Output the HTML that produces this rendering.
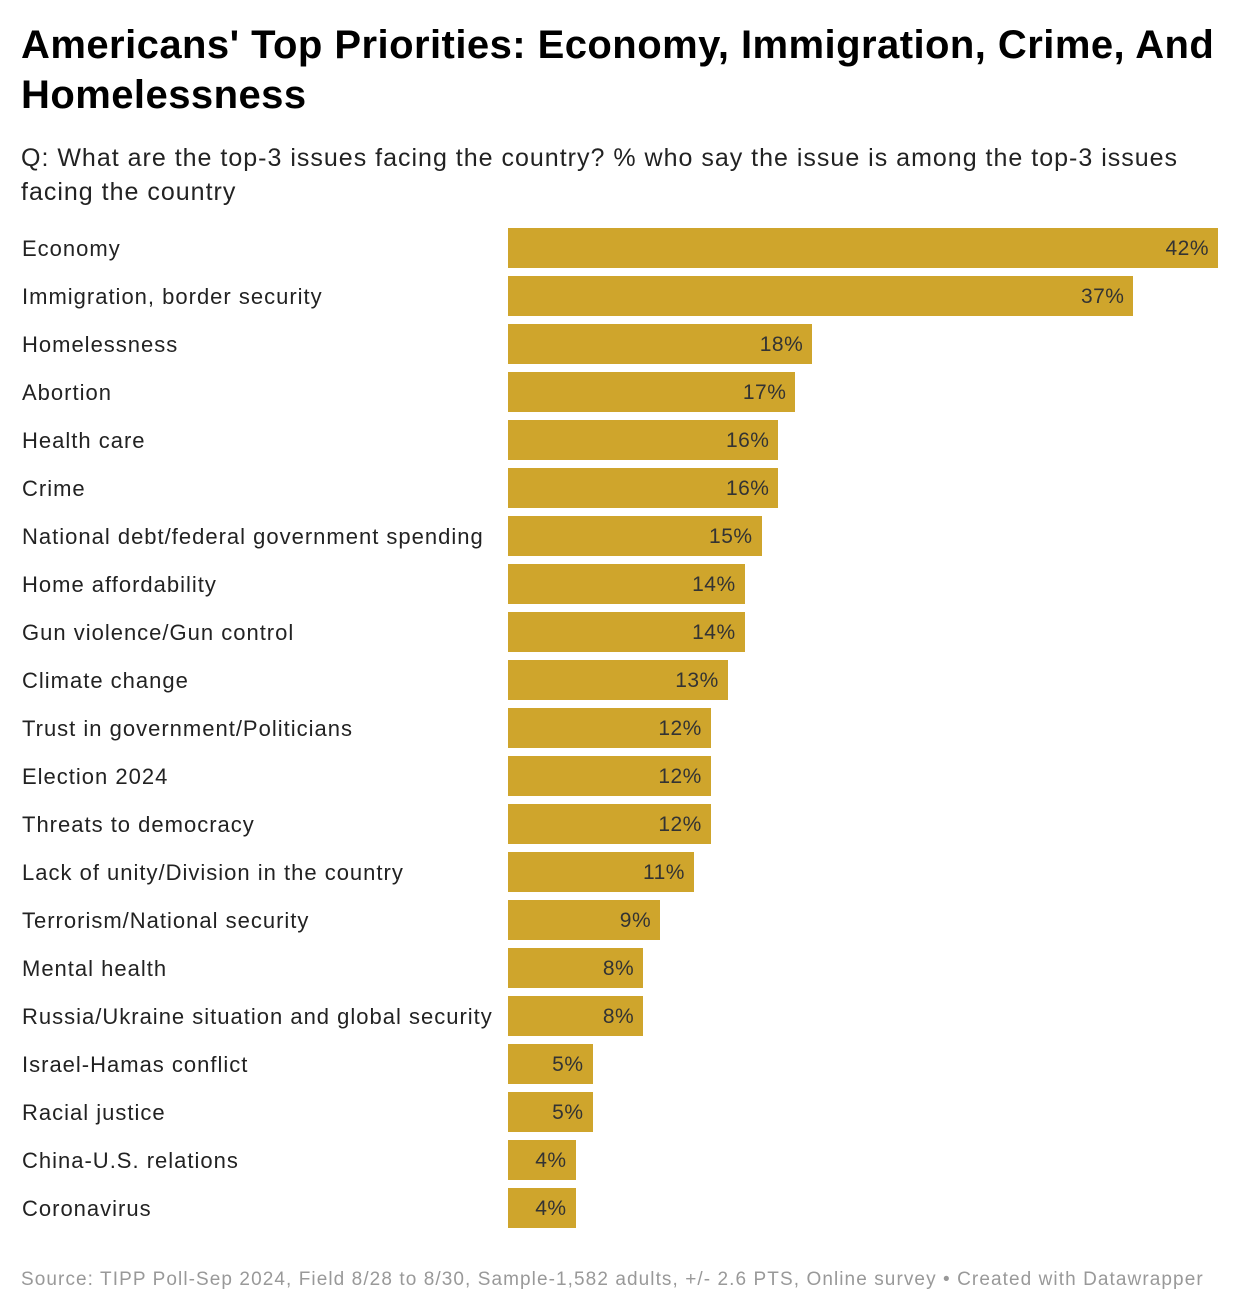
<!DOCTYPE html>
<html><head><meta charset="utf-8"><style>
body{margin:0;width:1240px;height:1314px;background:#fff;font-family:"Liberation Sans",sans-serif;position:relative;overflow:hidden}
#title{position:absolute;left:21px;top:20px;width:1215px;font-size:40px;font-weight:bold;line-height:50px;color:#000;letter-spacing:0.45px}
#sub{position:absolute;left:21px;top:141px;width:1205px;font-size:25px;line-height:34px;color:#222;letter-spacing:1px}
#foot{position:absolute;left:21px;top:1269px;font-size:19px;color:#999;letter-spacing:1.08px;white-space:nowrap}
.lab{position:absolute;left:22px;font-size:22px;color:#222;white-space:nowrap;letter-spacing:1px}
.bar{position:absolute;background:#cfa52c}
.val{position:absolute;font-size:21px;color:#333;text-align:right;letter-spacing:0.5px}
</style></head><body>
<div id="title">Americans' Top Priorities: Economy, Immigration, Crime, And Homelessness</div>
<div id="sub">Q: What are the top-3 issues facing the country? % who say the issue is among the top-3 issues facing the country</div>
<div id="chart"></div>
<div id="foot">Source: TIPP Poll-Sep 2024, Field 8/28 to 8/30, Sample-1,582 adults, +/- 2.6 PTS, Online survey • Created with Datawrapper</div>
<script>
const categories=["Economy","Immigration, border security","Homelessness","Abortion","Health care","Crime","National debt/federal government spending","Home affordability","Gun violence/Gun control","Climate change","Trust in government/Politicians","Election 2024","Threats to democracy","Lack of unity/Division in the country","Terrorism/National security","Mental health","Russia/Ukraine situation and global security","Israel-Hamas conflict","Racial justice","China-U.S. relations","Coronavirus"];
const values=[42,37,18,17,16,16,15,14,14,13,12,12,12,11,9,8,8,5,5,4,4];
const x0=508,x1=1218,maxV=42,top0=228,pitch=48,bh=40;
function xs(v){return x0+(x1-x0)*v/maxV;}
function ys(i){return top0+i*pitch;}
const c=document.getElementById('chart');
categories.forEach((cat,i)=>{
 const y=ys(i);
 const l=document.createElement('div');l.className='lab';l.style.top=(y+8)+'px';l.textContent=cat;
 
 
 c.appendChild(l);
 const b=document.createElement('div');b.className='bar';
 b.style.left=x0+'px';b.style.top=y+'px';b.style.height=bh+'px';b.style.width=(xs(values[i])-x0)+'px';
 
 
 c.appendChild(b);
 const v=document.createElement('div');v.className='val';
 v.style.left=(xs(values[i])-109)+'px';v.style.width='100px';v.style.top=(y+9)+'px';v.textContent=values[i]+'%';
 
 
 c.appendChild(v);
});
</script>
</body></html>
